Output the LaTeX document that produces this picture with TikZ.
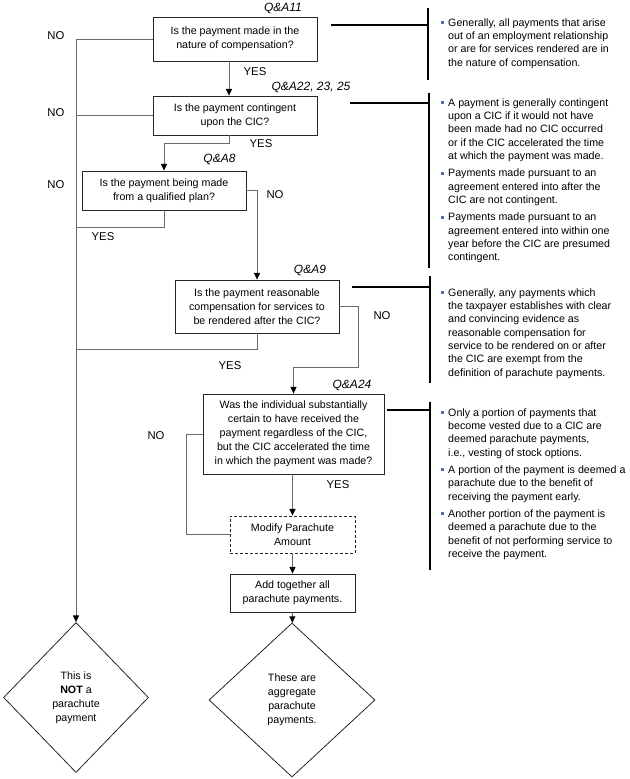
\documentclass[tikz,border=0pt]{standalone}
\usepackage{fontspec}
\setmainfont{Liberation Sans}
\usetikzlibrary{shapes.geometric,arrows.meta,calc}
\definecolor{linkgray}{RGB}{105,105,105}
\definecolor{bulletblue}{RGB}{80,112,170}
\newcommand{\bul}{\textcolor{bulletblue}{\rule[1.6pt]{2.2pt}{2.2pt}}}

\begin{document}
\begin{tikzpicture}[x=0.75pt, y=-0.75pt,
    every node/.style={font=\fontsize{8}{10.5}\selectfont, inner sep=0pt},
    qbox/.style={draw=black!85, line width=0.6pt, align=center, minimum width=123pt},
    endbox/.style={diamond, draw=black!85, line width=0.6pt, align=center},
    note/.style={anchor=base west, font=\fontsize{8}{10}\selectfont},
    lbl/.style={font=\fontsize{8.5}{10}\selectfont},
    qa/.style={font=\fontsize{9}{10}\selectfont\itshape},
    link/.style={draw=linkgray, line width=0.75pt},
    arr/.style={link, -{Triangle[length=5pt, width=4.5pt, black]}},
    bracket/.style={draw=black, line width=1.5pt}]
    \useasboundingbox (0,0) rectangle (630,779);

    % questions
    \node[qbox, minimum height=33pt] (qa11) at (235,39) {Is the payment made in the\\nature of compensation?};
    \node[qbox, minimum height=29.25pt] (qa22) at (235,115.5) {Is the payment contingent\\upon the CIC?};
    \node[qbox, minimum height=29.25pt] (qa8) at (164,190.5) {Is the payment being made\\from a qualified plan?};
    \node[qbox, minimum height=39.75pt] (qa9) at (257,306.5) {Is the payment reasonable\\compensation for services to\\be rendered after the CIC?};
    \node[qbox, minimum width=135.75pt, minimum height=60pt] (qa24) at (293.5,434) {Was the individual substantially\\certain to have received the\\payment regardless of the CIC,\\but the CIC accelerated the time\\in which the payment was made?};
    \node[qbox, dash pattern=on 2.25pt off 1.5pt, minimum width=93.75pt, minimum height=27.75pt] (modify) at (292.5,534.5) {Modify Parachute\\Amount};
    \node[qbox, minimum width=93.75pt, minimum height=28.5pt] (addall) at (292.5,593) {Add together all\\parachute payments.};

    % results
    \node[endbox, minimum width=108.75pt, minimum height=112.5pt] (notpay) at (76,697.5) {This is\\\textbf{NOT} a\\parachute\\payment};
    \node[endbox, minimum width=124.5pt, minimum height=115.5pt] (aggpay) at (292,700) {These are\\aggregate\\parachute\\payments.};

    % references
    \node[qa] (ref11) at (283,8) {Q\&A11};
    \node[qa] (ref22) at (311,87) {Q\&A22, 23, 25};
    \node[qa] (ref8) at (219.5,159) {Q\&A8};
    \node[qa] (ref9) at (310,270) {Q\&A9};
    \node[qa] (ref24) at (352,385) {Q\&A24};

    \foreach \x/\y [count=\i] in {56/36, 56/113, 56/185, 275/195, 382/316, 156/436} {
        \node[lbl] (no\i) at (\x,\y) {NO};
    }
    \foreach \x/\y [count=\i] in {255/72, 261/144, 103/237, 230/366, 338/485} {
        \node[lbl] (yes\i) at (\x,\y) {YES};
    }

    % flow
    \draw[arr] (qa11.west) -| (notpay.north);
    \draw[link] (qa22.west) -- (qa22.west -| notpay.north);
    \draw[arr] ($(qa11.south)+(-6,0)$) -- ($(qa22.north)+(-6,0)$);
    \draw[arr] ($(qa22.south)+(-6,0)$) -- ++(0,8) -| (qa8.north);
    \draw[arr] (qa8.east) -| (qa9.north);
    \draw[link] (qa8.south) |- (notpay.north |- 0,227);
    \draw[link] (qa9.south) |- (notpay.north |- 0,349);
    \draw[arr] (qa9.east) -| ($(qa9.east)+(19,61)$) -| (qa24.north);
    \draw[link] (qa24.west) -- ++(-16,0) |- (modify.west);
    \draw[arr] (qa24.south -| modify.north) -- (modify.north);
    \draw[arr] (modify) -- (addall);
    \draw[arr] (addall) -- (aggpay);

    % notes
    \node[note] (note11) at (441,26) {\begin{tabular}[t]{@{}l@{\hspace{3pt}}l@{}}
        \bul & Generally, all payments that arise\\
        & out of an employment relationship\\
        & or are for services rendered are in\\
        & the nature of compensation.
    \end{tabular}};
    \node[note] (note22) at (441,106) {\begin{tabular}[t]{@{}l@{\hspace{3pt}}l@{}}
        \bul & A payment is generally contingent\\
        & upon a CIC if it would not have\\
        & been made had no CIC occurred\\
        & or if the CIC accelerated the time\\
        & at which the payment was made.\\[3pt]
        \bul & Payments made pursuant to an\\
        & agreement entered into after the\\
        & CIC are not contingent.\\[3pt]
        \bul & Payments made pursuant to an\\
        & agreement entered into within one\\
        & year before the CIC are presumed\\
        & contingent.
    \end{tabular}};
    \node[note] (note9) at (441,296) {\begin{tabular}[t]{@{}l@{\hspace{3pt}}l@{}}
        \bul & Generally, any payments which\\
        & the taxpayer establishes with clear\\
        & and convincing evidence as\\
        & reasonable compensation for\\
        & service to be rendered on or after\\
        & the CIC are exempt from the\\
        & definition of parachute payments.
    \end{tabular}};
    \node[note] (note24) at (441,416) {\begin{tabular}[t]{@{}l@{\hspace{3pt}}l@{}}
        \bul & Only a portion of payments that\\
        & become vested due to a CIC are\\
        & deemed parachute payments,\\
        & i.e., vesting of stock options.\\[3pt]
        \bul & A portion of the payment is deemed a\\
        & parachute due to the benefit of\\
        & receiving the payment early.\\[3pt]
        \bul & Another portion of the payment is\\
        & deemed a parachute due to the\\
        & benefit of not performing service to\\
        & receive the payment.
    \end{tabular}};

    % brackets
    \draw[bracket] (331,25) -- (428,25) (428,8) -- (428,80);
    \draw[bracket] (350,103) -- (429,103) (429,93) -- (429,268);
    \draw[bracket] (352,287) -- (430,287) (430,276) -- (430,383);
    \draw[bracket] (387,410) -- (430,410) (430,402) -- (430,570);
\end{tikzpicture}
\end{document}
